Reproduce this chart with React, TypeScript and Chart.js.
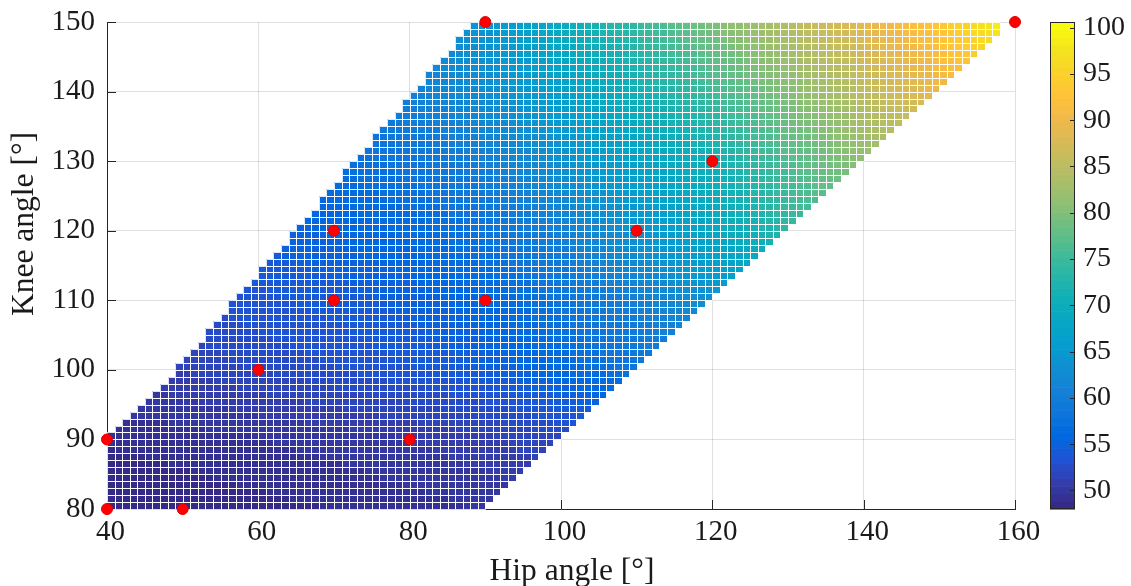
import React, { useEffect, useRef } from "react";
import { Chart, registerables } from "chart.js";

Chart.register(...registerables);

// ---- axes ----
const hipTicks = [40, 60, 80, 100, 120, 140, 160];
const kneeTicks = [80, 90, 100, 110, 120, 130, 140, 150];
const colorTicks = [50, 55, 60, 65, 70, 75, 80, 85, 90, 95, 100];
const colorMin = 48.0;
const colorMax = 100.6;

// ---- measured postures (red markers) ----
const measuredHip = [40, 50, 40, 80, 60, 70, 90, 70, 110, 120, 90, 160];
const measuredKnee = [80, 80, 90, 90, 100, 110, 110, 120, 120, 130, 150, 150];

// ---- response surface sampled on a 10° grid ----
const hipNodes = [40, 50, 60, 70, 80, 90, 100, 110, 120, 130, 140, 150, 160];
const kneeNodes = [80, 90, 100, 110, 120, 130, 140, 150];
const valuesKnee80 = [48.0, 48.3, 48.6, 48.9, 49.3, 49.8, 50.6, 51.5, 52.5, 53.5, 54.5, 55.5, 56.5];
const valuesKnee90 = [49.0, 49.3, 49.7, 50.1, 50.6, 51.2, 52.2, 53.5, 55.0, 56.5, 58.0, 59.5, 61.0];
const valuesKnee100 = [50.8, 51.5, 52.3, 53.0, 53.8, 54.8, 56.5, 58.5, 61.0, 64.0, 67.0, 70.0, 73.0];
const valuesKnee110 = [52.5, 53.0, 53.6, 54.2, 55.0, 56.2, 58.5, 61.0, 64.0, 67.5, 71.0, 74.5, 78.0];
const valuesKnee120 = [54.0, 54.5, 55.0, 55.6, 56.6, 58.3, 61.0, 64.5, 69.0, 74.0, 78.5, 82.5, 86.5];
const valuesKnee130 = [55.5, 56.0, 56.5, 57.2, 58.6, 60.8, 64.0, 67.8, 71.5, 77.0, 81.5, 85.5, 89.5];
const valuesKnee140 = [57.0, 57.5, 58.0, 59.0, 60.8, 63.2, 67.0, 71.5, 76.0, 80.8, 85.5, 90.0, 94.0];
const valuesKnee150 = [58.5, 59.0, 60.0, 61.0, 62.5, 64.5, 70.0, 75.0, 80.5, 85.0, 89.5, 94.0, 101.0];
const surfaceRows = [
  valuesKnee80, valuesKnee90, valuesKnee100, valuesKnee110,
  valuesKnee120, valuesKnee130, valuesKnee140, valuesKnee150,
];

// ---- feasible region (per knee row: first hip cell, end of last hip cell) ----
const rowStartKnee = [80, 90, 97, 149];
const rowStartHip = [40, 40, 47, 88];
const rowEndKnee = [80, 148, 149];
const rowEndHip = [90, 158, 158];

// ---- parula colour map (every third entry of the 64-step table) ----
const parulaStops = [
  [0.2081, 0.1663, 0.5292], [0.2081, 0.2386, 0.6771], [0.1253, 0.3242, 0.8303],
  [0.006, 0.4086, 0.8828], [0.0498, 0.4586, 0.8641], [0.0779, 0.504, 0.8384],
  [0.0641, 0.557, 0.824], [0.0265, 0.6137, 0.8135], [0.0228, 0.6535, 0.7768],
  [0.059, 0.6838, 0.7254], [0.1453, 0.7098, 0.6646], [0.2586, 0.7317, 0.5954],
  [0.3953, 0.7459, 0.5244], [0.53, 0.7491, 0.4661], [0.6473, 0.7456, 0.4188],
  [0.7525, 0.7384, 0.3768], [0.8507, 0.7299, 0.336], [0.945, 0.7261, 0.2886],
  [0.999, 0.7653, 0.2164], [0.9789, 0.8271, 0.1633], [0.9588, 0.8949, 0.1132],
  [0.9763, 0.9831, 0.0538],
];

const FONT = "'Liberation Serif', 'Times New Roman', serif";
const AXIS_COLOR = "#262626";
const GRID_COLOR = "rgba(38,38,38,0.14)";
const TEXT_COLOR = "#1a1a1a";

function piecewise(xs: number[], ys: number[], x: number): number {
  if (x <= xs[0]) return ys[0];
  for (let i = 0; i < xs.length - 1; i++) {
    if (x <= xs[i + 1]) {
      const t = (x - xs[i]) / (xs[i + 1] - xs[i]);
      return ys[i] + t * (ys[i + 1] - ys[i]);
    }
  }
  return ys[ys.length - 1];
}

function surfaceAt(hip: number, knee: number): number {
  const column = surfaceRows.map((row) => piecewise(hipNodes, row, hip));
  return piecewise(kneeNodes, column, knee);
}

function parulaIndexColor(idx: number): string {
  const p = (idx / 63) * (parulaStops.length - 1);
  const i = Math.min(parulaStops.length - 2, Math.floor(p));
  const f = p - i;
  const a = parulaStops[i];
  const b = parulaStops[i + 1];
  const c = a.map((v, j) => Math.round((v + f * (b[j] - v)) * 255));
  return `rgb(${c[0]},${c[1]},${c[2]})`;
}

function parulaColor(v: number): string {
  let t = (v - colorMin) / (colorMax - colorMin);
  t = Math.max(0, Math.min(1, t));
  return parulaIndexColor(Math.min(63, Math.floor(t * 64)));
}

type Cell = { hip: number; knee: number; value: number };

function buildCells(): Cell[] {
  const cells: Cell[] = [];
  for (let knee = kneeTicks[0]; knee < kneeTicks[kneeTicks.length - 1]; knee++) {
    const start = Math.round(piecewise(rowStartKnee, rowStartHip, knee));
    const end = Math.round(piecewise(rowEndKnee, rowEndHip, knee));
    for (let hip = start; hip < end; hip++) {
      cells.push({ hip, knee, value: surfaceAt(hip, knee) });
    }
  }
  return cells;
}

// keep the plot box exactly where the layout padding puts it
const noLabelOverflow = (s: any) => {
  s.paddingTop = 0;
  s.paddingBottom = 0;
  s.paddingLeft = 0;
  s.paddingRight = 0;
};

const heatmapPlugin = (cells: Cell[]) => ({
  id: "heatmap",
  beforeDatasetsDraw(chart: any) {
    const { ctx, chartArea } = chart;
    const xs = chart.scales.x;
    const ys = chart.scales.y;
    ctx.save();
    // inward tick marks
    ctx.strokeStyle = AXIS_COLOR;
    ctx.lineWidth = 1;
    ctx.beginPath();
    hipTicks.forEach((v) => {
      const px = Math.round(xs.getPixelForValue(v)) + 0.5;
      ctx.moveTo(px, chartArea.bottom);
      ctx.lineTo(px, chartArea.bottom - 9);
    });
    kneeTicks.forEach((v) => {
      const py = Math.round(ys.getPixelForValue(v)) + 0.5;
      ctx.moveTo(chartArea.left, py);
      ctx.lineTo(chartArea.left + 9, py);
    });
    ctx.stroke();

    // faceted cells
    const rects = cells.map((c) => {
      const x0 = Math.round(xs.getPixelForValue(c.hip));
      const x1 = Math.round(xs.getPixelForValue(c.hip + 1));
      const y0 = Math.round(ys.getPixelForValue(c.knee + 1));
      const y1 = Math.round(ys.getPixelForValue(c.knee));
      ctx.fillStyle = parulaColor(c.value);
      ctx.fillRect(x0, y0, x1 - x0, y1 - y0);
      return [x0, y0, x1 - x0, y1 - y0];
    });
    ctx.strokeStyle = "rgba(255,255,255,0.85)";
    ctx.beginPath();
    rects.forEach(([x, y, w, h]) => ctx.rect(x + 0.5, y + 0.5, w, h));
    ctx.stroke();
    ctx.restore();
  },
  afterDraw(chart: any) {
    const { ctx, chartArea } = chart;
    ctx.save();
    ctx.fillStyle = TEXT_COLOR;
    ctx.font = `31.5px ${FONT}`;
    ctx.textAlign = "center";
    ctx.textBaseline = "alphabetic";
    ctx.fillText("Hip angle [°]", (chartArea.left + chartArea.right) / 2 + 11, 580);
    ctx.translate(33, 224);
    ctx.rotate(-Math.PI / 2);
    ctx.fillText("Knee angle [°]", 0, 0);
    ctx.restore();
  },
});

const colorbarPlugin = {
  id: "colorbar",
  afterDraw(chart: any) {
    const { ctx, chartArea } = chart;
    const ys = chart.scales.y;
    ctx.save();
    for (let i = 0; i < 64; i++) {
      const v0 = colorMin + (i / 64) * (colorMax - colorMin);
      const v1 = colorMin + ((i + 1) / 64) * (colorMax - colorMin);
      const yTop = ys.getPixelForValue(v1);
      const yBot = ys.getPixelForValue(v0);
      ctx.fillStyle = parulaIndexColor(i);
      ctx.fillRect(chartArea.left, yTop, chartArea.right - chartArea.left, yBot - yTop + 0.6);
    }
    ctx.strokeStyle = AXIS_COLOR;
    ctx.lineWidth = 1;
    ctx.strokeRect(
      chartArea.left + 0.5,
      chartArea.top + 0.5,
      chartArea.right - chartArea.left - 1,
      chartArea.bottom - chartArea.top - 1
    );
    ctx.beginPath();
    colorTicks.forEach((v) => {
      const py = Math.round(ys.getPixelForValue(v)) + 0.5;
      ctx.moveTo(chartArea.right, py);
      ctx.lineTo(chartArea.right - 5, py);
    });
    ctx.stroke();
    ctx.restore();
  },
};

export default function App() {
  const mainRef = useRef<HTMLCanvasElement>(null);
  const barRef = useRef<HTMLCanvasElement>(null);

  useEffect(() => {
    if (!mainRef.current || !barRef.current) return;
    const cells = buildCells();
    const tickFont = { family: FONT, size: 29 };

    const main = new Chart(mainRef.current, {
      type: "scatter",
      data: {
        datasets: [
          {
            data: measuredHip.map((h, i) => ({ x: h, y: measuredKnee[i] })),
            pointRadius: 5.5,
            pointHoverRadius: 5.5,
            backgroundColor: "#ff0000",
            borderColor: "#e00000",
            borderWidth: 1,
            clip: false,
          } as any,
        ],
      },
      options: {
        animation: false,
        responsive: false,
        devicePixelRatio: 1,
        events: [],
        layout: { autoPadding: false, padding: { top: 22, right: 25, left: 0, bottom: 0 } },
        plugins: { legend: { display: false }, tooltip: { enabled: false } },
        scales: {
          x: {
            type: "linear",
            min: 40,
            max: 160,
            afterBuildTicks: (s: any) => {
              s.ticks = hipTicks.map((v) => ({ value: v }));
            },
            afterFit: (s: any) => {
              s.height = 77;
              noLabelOverflow(s);
            },
            grid: { color: GRID_COLOR, drawTicks: false },
            border: { color: AXIS_COLOR, width: 1 },
            ticks: {
              padding: 6,
              labelOffset: 3.5,
              maxRotation: 0,
              autoSkip: false,
              color: TEXT_COLOR,
              font: tickFont,
            },
          },
          y: {
            type: "linear",
            min: 80,
            max: 150,
            afterBuildTicks: (s: any) => {
              s.ticks = kneeTicks.map((v) => ({ value: v }));
            },
            afterFit: (s: any) => {
              s.width = 107;
              noLabelOverflow(s);
            },
            grid: { color: GRID_COLOR, drawTicks: false },
            border: { color: AXIS_COLOR, width: 1 },
            ticks: { padding: 12, autoSkip: false, color: TEXT_COLOR, font: tickFont },
          },
        },
      },
      plugins: [heatmapPlugin(cells)],
    });

    const bar = new Chart(barRef.current, {
      type: "scatter",
      data: { datasets: [] },
      options: {
        animation: false,
        responsive: false,
        devicePixelRatio: 1,
        events: [],
        layout: { autoPadding: false, padding: { top: 22, bottom: 77, left: 10, right: 0 } },
        plugins: { legend: { display: false }, tooltip: { enabled: false } },
        scales: {
          x: { display: false, min: 0, max: 1 },
          y: {
            type: "linear",
            position: "right",
            min: colorMin,
            max: colorMax,
            afterBuildTicks: (s: any) => {
              s.ticks = colorTicks.map((v) => ({ value: v }));
            },
            afterFit: (s: any) => {
              s.width = 56;
              noLabelOverflow(s);
            },
            grid: { display: false, drawTicks: false },
            border: { display: false },
            ticks: { padding: 8, autoSkip: false, color: TEXT_COLOR, font: { family: FONT, size: 28 } },
          },
        },
      },
      plugins: [colorbarPlugin],
    });

    return () => {
      main.destroy();
      bar.destroy();
    };
  }, []);

  return (
    <div style={{ position: "fixed", left: 0, top: 0, width: 1131, height: 586, background: "#fff" }}>
      <canvas
        ref={mainRef}
        width={1040}
        height={586}
        style={{ position: "absolute", left: 0, top: 0, width: 1040, height: 586 }}
      />
      <canvas
        ref={barRef}
        width={91}
        height={586}
        style={{ position: "absolute", left: 1040, top: 0, width: 91, height: 586 }}
      />
    </div>
  );
}
